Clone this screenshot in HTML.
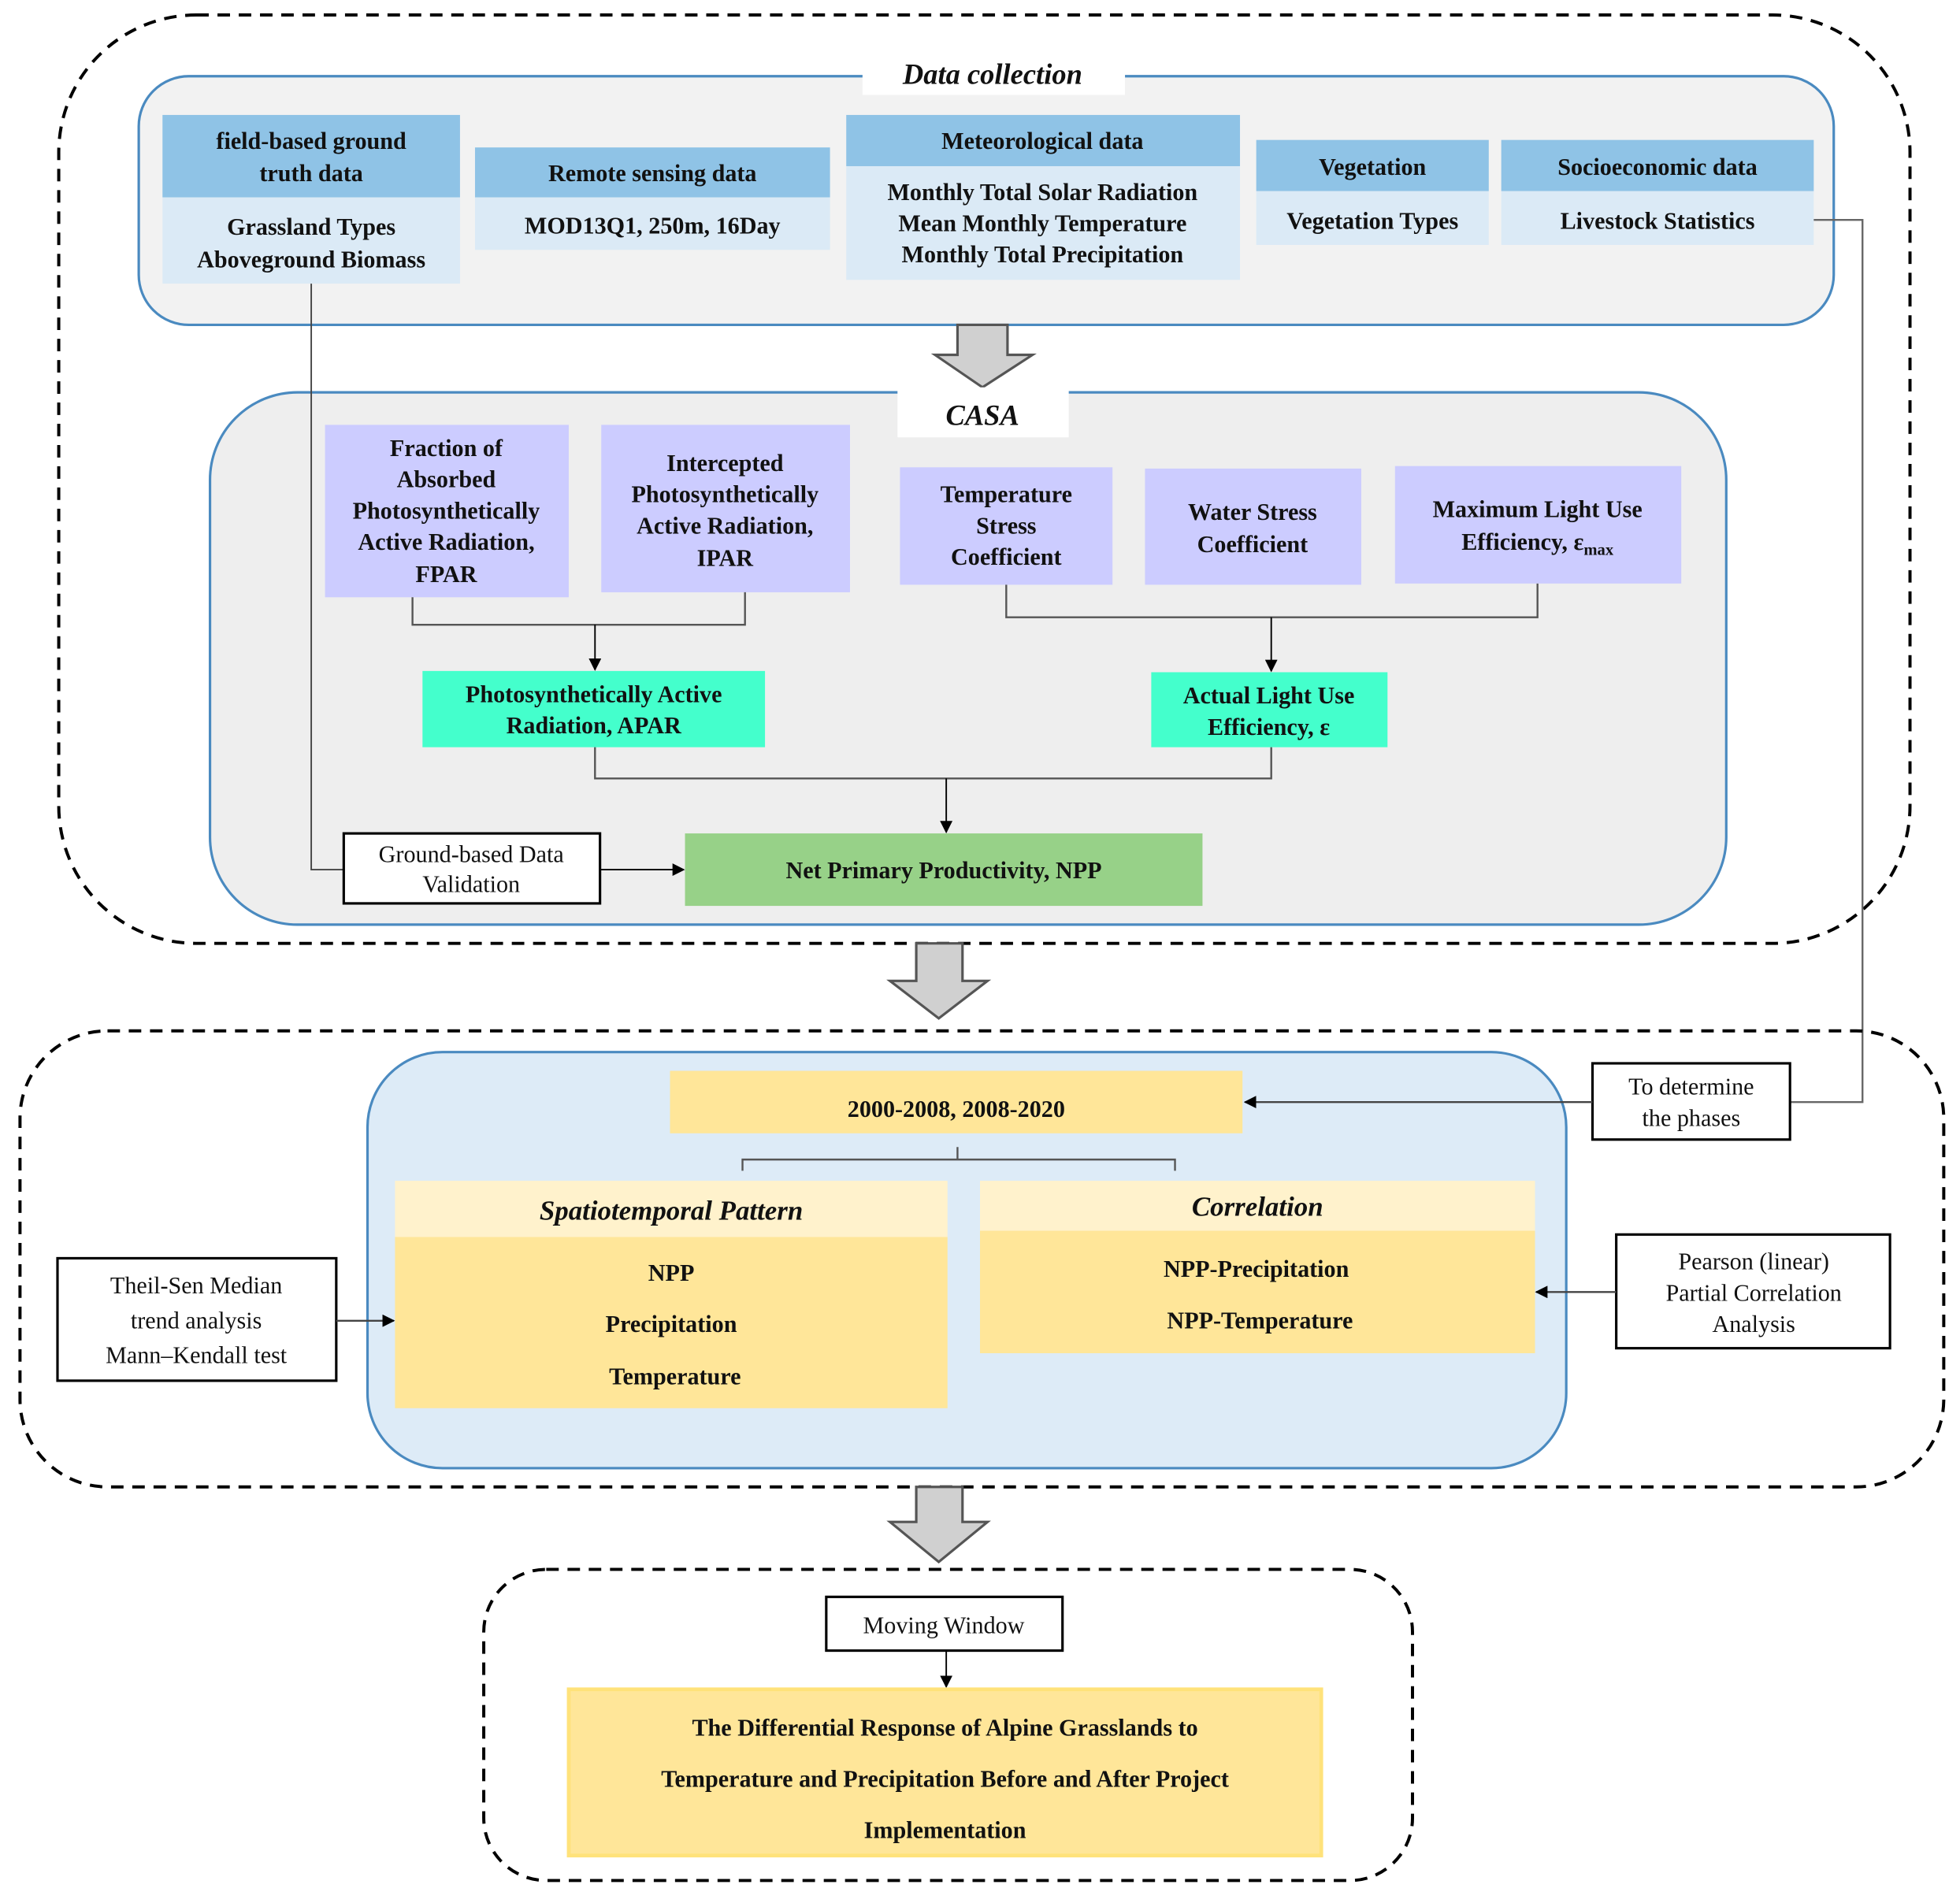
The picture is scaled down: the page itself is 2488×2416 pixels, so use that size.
<!DOCTYPE html>
<html><head><meta charset="utf-8"><style>
html,body{margin:0;padding:0;background:#fff;}
svg{display:block;}
text{font-family:"Liberation Serif",serif;fill:#111;}
.b{font-weight:bold;font-size:19px;}
.n{font-size:19px;}
.i{font-weight:bold;font-style:italic;font-size:23px;}
</style></head><body>
<svg width="2488" height="2416" viewBox="0 0 1568 1523" preserveAspectRatio="none" xmlns="http://www.w3.org/2000/svg">
<defs><marker id="a" markerWidth="10" markerHeight="10" refX="9" refY="5" orient="auto" markerUnits="userSpaceOnUse"><path d="M0,0 L10,5 L0,10 z" fill="#000"/></marker></defs>

<!-- outer dashed 1 -->
<rect x="47" y="12" width="1481" height="743" rx="110" fill="none" stroke="#000" stroke-width="2.5" stroke-dasharray="10,7"/>
<!-- data collection -->
<rect x="111" y="61" width="1356" height="199" rx="40" fill="#f2f2f2" stroke="#4a8ac0" stroke-width="2"/>
<rect x="690" y="44" width="210" height="32" fill="#fff"/>
<text class="i" x="794" y="67" text-anchor="middle">Data collection</text>

<rect x="130" y="92" width="238" height="66" fill="#8fc3e6"/><rect x="130" y="158" width="238" height="69" fill="#dbeaf6"/>
<text class="b" x="249" y="119" text-anchor="middle">field-based ground</text><text class="b" x="249" y="145" text-anchor="middle">truth data</text>
<text class="b" x="249" y="188" text-anchor="middle">Grassland Types</text><text class="b" x="249" y="214" text-anchor="middle">Aboveground Biomass</text>

<rect x="380" y="118" width="284" height="40" fill="#8fc3e6"/><rect x="380" y="158" width="284" height="42" fill="#dbeaf6"/>
<text class="b" x="522" y="145" text-anchor="middle">Remote sensing data</text>
<text class="b" x="522" y="187" text-anchor="middle">MOD13Q1, 250m, 16Day</text>

<rect x="677" y="92" width="315" height="41" fill="#8fc3e6"/><rect x="677" y="133" width="315" height="91" fill="#dbeaf6"/>
<text class="b" x="834" y="119" text-anchor="middle">Meteorological data</text>
<text class="b" x="834" y="160" text-anchor="middle">Monthly Total Solar Radiation</text>
<text class="b" x="834" y="185" text-anchor="middle">Mean Monthly Temperature</text>
<text class="b" x="834" y="210" text-anchor="middle">Monthly Total Precipitation</text>

<rect x="1005" y="112" width="186" height="41" fill="#8fc3e6"/><rect x="1005" y="153" width="186" height="43" fill="#dbeaf6"/>
<text class="b" x="1098" y="140" text-anchor="middle">Vegetation</text>
<text class="b" x="1098" y="183" text-anchor="middle">Vegetation Types</text>

<rect x="1201" y="112" width="250" height="41" fill="#8fc3e6"/><rect x="1201" y="153" width="250" height="43" fill="#dbeaf6"/>
<text class="b" x="1326" y="140" text-anchor="middle">Socioeconomic data</text>
<text class="b" x="1326" y="183" text-anchor="middle">Livestock Statistics</text>

<!-- big arrow 1 -->
<path d="M766,260 L806,260 L806,284 L826,284 L786,310 L748,284 L766,284 Z" fill="#d0d0d0" stroke="#555" stroke-width="2"/>

<!-- CASA -->
<rect x="168" y="314" width="1213" height="426" rx="70" fill="#eeeeee" stroke="#4a8ac0" stroke-width="2"/>
<rect x="718" y="310" width="137" height="40" fill="#fff"/>
<text class="i" x="786" y="340" text-anchor="middle">CASA</text>

<rect x="260" y="340" width="195" height="138" fill="#ccccff"/>
<text class="b" x="357" y="365" text-anchor="middle">Fraction of</text>
<text class="b" x="357" y="390" text-anchor="middle">Absorbed</text>
<text class="b" x="357" y="415" text-anchor="middle">Photosynthetically</text>
<text class="b" x="357" y="440" text-anchor="middle">Active Radiation,</text>
<text class="b" x="357" y="466" text-anchor="middle">FPAR</text>

<rect x="481" y="340" width="199" height="134" fill="#ccccff"/>
<text class="b" x="580" y="377" text-anchor="middle">Intercepted</text>
<text class="b" x="580" y="402" text-anchor="middle">Photosynthetically</text>
<text class="b" x="580" y="427" text-anchor="middle">Active Radiation,</text>
<text class="b" x="580" y="453" text-anchor="middle">IPAR</text>

<rect x="720" y="374" width="170" height="94" fill="#ccccff"/>
<text class="b" x="805" y="402" text-anchor="middle">Temperature</text>
<text class="b" x="805" y="427" text-anchor="middle">Stress</text>
<text class="b" x="805" y="452" text-anchor="middle">Coefficient</text>

<rect x="916" y="375" width="173" height="93" fill="#ccccff"/>
<text class="b" x="1002" y="416" text-anchor="middle">Water Stress</text>
<text class="b" x="1002" y="442" text-anchor="middle">Coefficient</text>

<rect x="1116" y="373" width="229" height="94" fill="#ccccff"/>
<text class="b" x="1230" y="414" text-anchor="middle">Maximum Light Use</text>
<text class="b" x="1230" y="440" text-anchor="middle">Efficiency, ε<tspan font-size="13" dy="4">max</tspan></text>

<path d="M330,478 V500 H596 V474" fill="none" stroke="#555" stroke-width="1.5"/>
<line x1="476" y1="500" x2="476" y2="536" stroke="#000" stroke-width="1.2" marker-end="url(#a)"/>
<path d="M805,468 V494 H1230 V467" fill="none" stroke="#555" stroke-width="1.5"/>
<line x1="1017" y1="494" x2="1017" y2="537" stroke="#000" stroke-width="1.2" marker-end="url(#a)"/>

<rect x="338" y="537" width="274" height="61" fill="#44ffcc"/>
<text class="b" x="475" y="562" text-anchor="middle">Photosynthetically Active</text>
<text class="b" x="475" y="587" text-anchor="middle">Radiation, APAR</text>
<rect x="921" y="538" width="189" height="60" fill="#44ffcc"/>
<text class="b" x="1015" y="563" text-anchor="middle">Actual Light Use</text>
<text class="b" x="1015" y="588" text-anchor="middle">Efficiency,   ε</text>

<path d="M476,598 V623 H1017 V598" fill="none" stroke="#555" stroke-width="1.5"/>
<line x1="757" y1="623" x2="757" y2="666" stroke="#000" stroke-width="1.2" marker-end="url(#a)"/>

<rect x="548" y="667" width="414" height="58" fill="#97d188"/>
<text class="b" x="755" y="703" text-anchor="middle">Net Primary Productivity, NPP</text>

<path d="M249,227 V696 H275" fill="none" stroke="#444" stroke-width="1.2"/>
<rect x="275" y="667" width="205" height="56" fill="#fff" stroke="#000" stroke-width="2"/>
<text class="n" x="377" y="690" text-anchor="middle">Ground-based Data</text>
<text class="n" x="377" y="714" text-anchor="middle">Validation</text>
<line x1="480" y1="696" x2="547" y2="696" stroke="#000" stroke-width="1.2" marker-end="url(#a)"/>

<!-- socio line -->
<path d="M1451,176 H1490 V882 H1432" fill="none" stroke="#666" stroke-width="1.5"/>

<!-- big arrow 2 -->
<path d="M733,755 L770,755 L770,785 L790,785 L751,815 L712,785 L733,785 Z" fill="#d0d0d0" stroke="#555" stroke-width="2"/>

<!-- outer dashed 2 -->
<rect x="16" y="825" width="1539" height="365" rx="70" fill="none" stroke="#000" stroke-width="2.5" stroke-dasharray="10,7"/>
<rect x="294" y="842" width="959" height="333" rx="60" fill="#ddebf7" stroke="#4a8ac0" stroke-width="2"/>

<rect x="536" y="857" width="458" height="50" fill="#ffe699"/>
<text class="b" x="765" y="894" text-anchor="middle">2000-2008, 2008-2020</text>

<rect x="1274" y="851" width="158" height="61" fill="#fff" stroke="#000" stroke-width="2"/>
<text class="n" x="1353" y="876" text-anchor="middle">To determine</text>
<text class="n" x="1353" y="901" text-anchor="middle">the phases</text>
<line x1="1274" y1="882" x2="996" y2="882" stroke="#444" stroke-width="1.5" marker-end="url(#a)"/>

<path d="M594,937 V928 H940 V937 M766,928 V918" fill="none" stroke="#555" stroke-width="1.5"/>

<rect x="316" y="945" width="442" height="45" fill="#fff2cc"/><rect x="316" y="990" width="442" height="137" fill="#ffe699"/>
<text class="i" x="537" y="976" text-anchor="middle" style="font-size:22px">Spatiotemporal Pattern</text>
<text class="b" x="537" y="1025" text-anchor="middle">NPP</text>
<text class="b" x="537" y="1066" text-anchor="middle">Precipitation</text>
<text class="b" x="540" y="1108" text-anchor="middle">Temperature</text>

<rect x="784" y="945" width="444" height="40" fill="#fff2cc"/><rect x="784" y="985" width="444" height="98" fill="#ffe699"/>
<text class="i" x="1006" y="973" text-anchor="middle" style="font-size:22px">Correlation</text>
<text class="b" x="1005" y="1022" text-anchor="middle">NPP-Precipitation</text>
<text class="b" x="1008" y="1063" text-anchor="middle">NPP-Temperature</text>

<rect x="46" y="1007" width="223" height="98" fill="#fff" stroke="#000" stroke-width="2"/>
<text class="n" x="157" y="1035" text-anchor="middle">Theil-Sen Median</text>
<text class="n" x="157" y="1063" text-anchor="middle">trend analysis</text>
<text class="n" x="157" y="1091" text-anchor="middle">Mann–Kendall test</text>
<line x1="269" y1="1057" x2="315" y2="1057" stroke="#444" stroke-width="1.5" marker-end="url(#a)"/>

<rect x="1293" y="988" width="219" height="91" fill="#fff" stroke="#000" stroke-width="2"/>
<text class="n" x="1403" y="1016" text-anchor="middle">Pearson (linear)</text>
<text class="n" x="1403" y="1041" text-anchor="middle">Partial Correlation</text>
<text class="n" x="1403" y="1066" text-anchor="middle">Analysis</text>
<line x1="1293" y1="1034" x2="1229" y2="1034" stroke="#444" stroke-width="1.5" marker-end="url(#a)"/>

<!-- big arrow 3 -->
<path d="M733,1190 L770,1190 L770,1218 L790,1218 L751,1250 L712,1218 L733,1218 Z" fill="#d0d0d0" stroke="#555" stroke-width="2"/>

<rect x="387" y="1256" width="743" height="249" rx="50" fill="none" stroke="#000" stroke-width="2.5" stroke-dasharray="10,7"/>
<rect x="661" y="1278" width="189" height="43" fill="#fff" stroke="#000" stroke-width="2"/>
<text class="n" x="755" y="1307" text-anchor="middle">Moving Window</text>
<line x1="757" y1="1321" x2="757" y2="1350" stroke="#000" stroke-width="1.2" marker-end="url(#a)"/>

<rect x="455" y="1352" width="602" height="133" fill="#ffe699" stroke="#ffe27a" stroke-width="3"/>
<text class="b" x="756" y="1389" text-anchor="middle">The Differential Response of Alpine Grasslands to</text>
<text class="b" x="756" y="1430" text-anchor="middle">Temperature and Precipitation Before and After Project</text>
<text class="b" x="756" y="1471" text-anchor="middle">Implementation</text>
</svg>
</body></html>
